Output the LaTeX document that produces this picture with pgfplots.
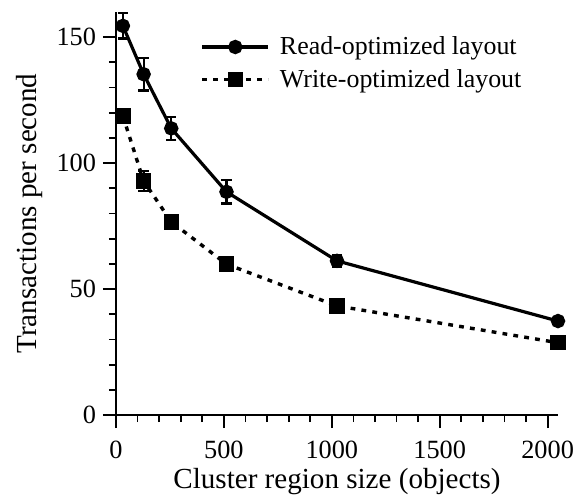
\documentclass[border=0pt]{standalone}
\usepackage{fontspec}
\setmainfont{Liberation Serif}
\usepackage{pgfplots}
\pgfplotsset{compat=1.18}

\begin{document}
\begin{tikzpicture}
\begin{axis}[
  name=ax,
  scale only axis,
  width=221bp, height=201.5bp,
  xmin=0, xmax=2048,
  ymin=0, ymax=160,
  axis x line=bottom, axis y line=left,
  axis line style={-, line width=1bp},
  xtick={0,500,1000,1500,2000},
  ytick={0,50,100,150},
  minor x tick num=4, minor y tick num=4,
  tick align=outside,
  major tick length=6.5bp, minor tick length=3.5bp,
  every tick/.style={black, line width=0.9bp},
  tick label style={font=\fontsize{13.2}{16}\selectfont},
  xticklabel style={yshift=-3bp},
  /pgf/number format/assume math mode=true,
  /pgf/number format/set thousands separator={},
  label style={font=\fontsize{14.6}{17}\selectfont},
  xlabel={Cluster region size (objects)},
  ylabel={Transactions per second},
  xlabel style={at={(axis description cs:0.5,-0.166)}, anchor=center},
  ylabel style={at={(axis description cs:-0.195,0.5)}, anchor=center},
  legend style={draw=none, fill=none, at={(axis description cs:0.186,0.955)}, anchor=north west,
    font=\fontsize{13.0}{16}\selectfont, row sep=1.8bp, column sep=3bp, inner sep=1bp},
  legend cell align=left,
  legend image code/.code={
    \draw[#1, mark=none] (0bp,0bp) -- (33bp,0bp);
    \draw[#1, solid] plot coordinates {(16.5bp,0bp)};
  },
]
% read-optimized layout: mean with error bars
\addplot[black, solid, line width=1.6bp, mark=*, mark size=2.8bp,
  error bars/.cd, y dir=both, y explicit,
  error bar style={line width=1.1bp, solid},
  error mark options={rotate=90, mark size=2.6bp, line width=1.1bp}]
  table[x=x, y=y, y error=e] {
  x     y      e
  32    154.5  5.0
  128   135.3  6.5
  256   113.8  4.6
  512   88.6   4.6
  1024  61.2   2.4
  2048  37.3   1.0
};
\addlegendentry{Read-optimized layout}
% write-optimized layout: mean with error bars
\addplot[black, line width=1.7bp, line cap=butt, dash pattern=on 2.4bp off 3.1bp,
  mark=square*, mark size=3bp, mark options={solid},
  error bars/.cd, y dir=both, y explicit,
  error bar style={line width=1.1bp, solid},
  error mark options={rotate=90, mark size=2.6bp, line width=1.1bp}]
  table[x=x, y=y, y error=e] {
  x     y      e
  32    118.7  2.0
  128   92.9   4.0
  256   76.7   2.8
  512   59.9   1.6
  1024  43.3   1.3
  2048  28.7   1.3
};
\addlegendentry{Write-optimized layout}
\end{axis}
\pgfresetboundingbox
\path[use as bounding box] (-58bp,-42.5bp) rectangle (231.5bp,207.5bp);
\end{tikzpicture}
\end{document}
